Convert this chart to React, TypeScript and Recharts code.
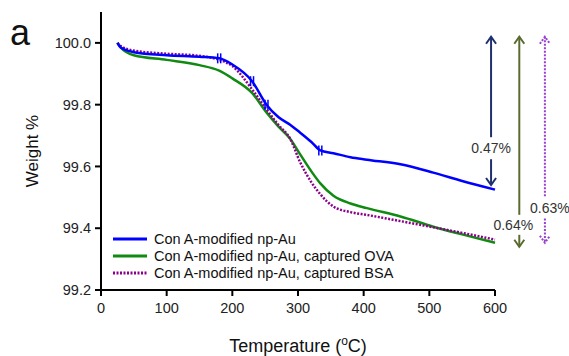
import React from 'react';
import {
  LineChart,
  Line,
  XAxis,
  YAxis,
  Legend,
  ReferenceLine,
} from 'recharts';

const FONT = "Arial, 'Liberation Sans', sans-serif";

// temperature samples (°C)
const temps = [25, 30, 50, 100, 150, 180, 200, 230, 252, 270, 288, 303, 320, 334, 354, 380, 405, 456, 506, 550, 600];
// weight % for each sample
const conA = [100.0, 99.985, 99.97, 99.96, 99.955, 99.95, 99.93, 99.876, 99.8, 99.76, 99.735, 99.71, 99.68, 99.652, 99.643, 99.63, 99.622, 99.607, 99.58, 99.553, 99.525];
const conAOva = [100.0, 99.985, 99.96, 99.945, 99.928, 99.91, 99.885, 99.838, 99.775, 99.73, 99.69, 99.64, 99.585, 99.545, 99.505, 99.48, 99.465, 99.438, 99.405, 99.38, 99.353];
const conABsa = [100.0, 99.99, 99.975, 99.965, 99.958, 99.945, 99.925, 99.85, 99.785, 99.735, 99.69, 99.615, 99.55, 99.51, 99.47, 99.452, 99.443, 99.423, 99.403, 99.385, 99.363];
// temps where the blue curve carries a small tick marker
const blueMarks = [180, 230, 252, 334];

const xTicks = [0, 100, 200, 300, 400, 500, 600];
const yTicks = [99.2, 99.4, 99.6, 99.8, 100.0];

const seriesNames = [
  'Con A-modified np-Au',
  'Con A-modified np-Au, captured OVA',
  'Con A-modified np-Au, captured BSA',
];

// weight-loss arrows
const lossLabels = ['0.47%', '0.64%', '0.63%'];
const arrowX = [594, 637, 676];
const arrowTop = 100.02;
const arrowBottom = [99.54, 99.34, 99.353];
const labelAt = [99.659, 99.411, 99.467];

const data = temps.map((t, i) => ({
  T: t,
  a: conA[i],
  ova: conAOva[i],
  bsa: conABsa[i],
}));

const BlueDot = (props: any) => {
  const { cx, cy, payload } = props;
  if (!blueMarks.includes(payload.T)) return <g />;
  return (
    <g>
      <line x1={cx - 1.5} y1={cy - 5} x2={cx - 1.5} y2={cy + 5} stroke="#0000ff" strokeWidth={1.5} />
      <line x1={cx + 1.5} y1={cy - 5} x2={cx + 1.5} y2={cy + 5} stroke="#0000ff" strokeWidth={1.5} />
    </g>
  );
};

const makeArrow = (idx: number, color: string, dash?: string, labelDx = 0, gap = 11) => (props: any) => {
  const { x1, y1, y2 } = props;
  const ly = y1 + ((y2 - y1) * (arrowTop - labelAt[idx])) / (arrowTop - arrowBottom[idx]);
  return (
    <g>
      <line x1={x1} y1={y1} x2={x1} y2={ly - gap} stroke={color} strokeWidth={2} strokeDasharray={dash} />
      <line x1={x1} y1={ly + gap} x2={x1} y2={y2} stroke={color} strokeWidth={2} strokeDasharray={dash} />
      <polyline points={`${x1 - 5},${y1 + 7} ${x1},${y1} ${x1 + 5},${y1 + 7}`} fill="none" stroke={color} strokeWidth={2} strokeDasharray={dash} />
      <polyline points={`${x1 - 5},${y2 - 7} ${x1},${y2} ${x1 + 5},${y2 - 7}`} fill="none" stroke={color} strokeWidth={2} strokeDasharray={dash} />
      <text x={x1 + labelDx} y={ly + 5} textAnchor="middle" fontSize={14} fill="#333" fontFamily={FONT}>
        {lossLabels[idx]}
      </text>
    </g>
  );
};

const LegendBox = () => {
  const styles = [
    { stroke: '#0000ff', dash: undefined },
    { stroke: '#108a10', dash: undefined },
    { stroke: '#8b008b', dash: '2 1.5' },
  ];
  return (
    <svg width={330} height={56} style={{ display: 'block' }}>
      {seriesNames.map((name, i) => (
        <g key={name}>
          <line x1={5} x2={39} y1={10 + i * 17} y2={10 + i * 17} stroke={styles[i].stroke} strokeWidth={3} strokeDasharray={styles[i].dash} />
          <text x={46} y={15 + i * 17} fontSize={14.5} fill="#111" fontFamily={FONT}>
            {name}
          </text>
        </g>
      ))}
    </svg>
  );
};

export default function App() {
  return (
    <div style={{ position: 'absolute', left: 0, top: 0, width: 569, height: 356, background: '#fff' }}>
      <LineChart
        width={569}
        height={356}
        data={data}
        margin={{ top: 12, right: 74, bottom: 0, left: 0 }}
      >
        <XAxis
          dataKey="T"
          type="number"
          domain={[0, 600]}
          ticks={xTicks}
          height={66}
          stroke="#000"
          strokeWidth={2}
          tickSize={6}
          tick={{ fontSize: 14.5, fill: '#222', fontFamily: FONT }}
          tickMargin={7}
          label={{
            content: (p: any) => {
              const vb = p.viewBox;
              return (
                <text x={vb.x + vb.width / 2} y={vb.y + 62} textAnchor="middle" fontSize={18} fill="#111" fontFamily={FONT}>
                  Temperature (
                  <tspan baselineShift="super" fontSize={12}>o</tspan>
                  C)
                </text>
              );
            },
          }}
        />
        <YAxis
          type="number"
          domain={[99.2, 100.1]}
          ticks={yTicks}
          width={101}
          stroke="#000"
          strokeWidth={2}
          tickSize={6}
          tickMargin={4}
          tickFormatter={(v: number) => v.toFixed(1)}
          tick={{ fontSize: 14.5, fill: '#222', fontFamily: FONT }}
          label={{
            content: (p: any) => {
              const vb = p.viewBox;
              const cx = vb.x + 38;
              const cy = vb.y + vb.height / 2;
              return (
                <g>
                  <text x={10} y={45} fontSize={36} fill="#111" fontFamily={FONT}>a</text>
                  <text x={cx} y={cy} transform={`rotate(-90 ${cx} ${cy})`} textAnchor="middle" fontSize={17} fill="#111" fontFamily={FONT}>
                    Weight %
                  </text>
                </g>
              );
            },
          }}
        />
        <Legend
          layout="vertical"
          align="center"
          verticalAlign="middle"
          content={() => <LegendBox />}
          wrapperStyle={{ left: 108, top: 229, width: 330, height: 56 }}
        />
        <Line
          type="monotone"
          dataKey="ova"
          name={seriesNames[1]}
          stroke="#108a10"
          strokeWidth={2.5}
          dot={false}
          isAnimationActive={false}
        />
        <Line
          type="monotone"
          dataKey="bsa"
          name={seriesNames[2]}
          stroke="#8b008b"
          strokeWidth={2.5}
          strokeDasharray="2 1.5"
          dot={false}
          isAnimationActive={false}
        />
        <Line
          type="monotone"
          dataKey="a"
          name={seriesNames[0]}
          stroke="#0000ff"
          strokeWidth={2.5}
          dot={<BlueDot />}
          isAnimationActive={false}
        />
        <ReferenceLine
          segment={[{ x: arrowX[0], y: arrowTop }, { x: arrowX[0], y: arrowBottom[0] }]}
          ifOverflow="visible"
          shape={makeArrow(0, '#1f3070')}
        />
        <ReferenceLine
          segment={[{ x: arrowX[1], y: arrowTop }, { x: arrowX[1], y: arrowBottom[1] }]}
          ifOverflow="visible"
          shape={makeArrow(1, '#5b6b2e', undefined, -6, 10)}
        />
        <ReferenceLine
          segment={[{ x: arrowX[2], y: arrowTop }, { x: arrowX[2], y: arrowBottom[2] }]}
          ifOverflow="visible"
          shape={makeArrow(2, '#9a3fd0', '2 1.5', 5, 11)}
        />
      </LineChart>
    </div>
  );
}
